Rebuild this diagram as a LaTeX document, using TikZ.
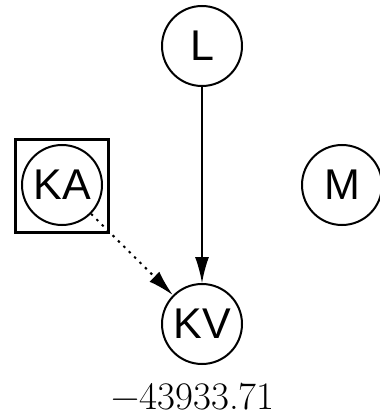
\documentclass[tikz,border=0pt]{standalone}
\usepackage{fontspec}
\newfontfamily\nodefont{Liberation Sans}
\usetikzlibrary{arrows.meta}
\tikzstyle{var} = [circle, minimum size=40pt, inner sep=0pt, draw=black, line width=1pt, font=\nodefont\fontsize{21.5}{24}\selectfont]
\tikzstyle{frame} = [rectangle, minimum size=46.5pt, inner sep=0pt, draw=black, line width=1.2pt]
\tikzstyle{arrow} = [line width=0.8pt, -{Latex[length=13pt,width=7pt]}]
\tikzstyle{dotarrow} = [arrow, line width=1pt, dash pattern=on 1.2pt off 2.6pt]
\begin{document}
\begin{tikzpicture}[x=0.5pt, y=-0.5pt]
				\useasboundingbox (0,0) rectangle (379,416);
				\node (L) [var] at (202,46) {L};
				\node (KA) [var] at (62,185) {KA};
				\node (KAbox) [frame] at (62,186) {};
				\node (M) [var] at (342,185) {M};
				\node (KV) [var] at (202,324) {KV};
				\node (score) at (193,397) {\fontsize{19.5}{22}\selectfont −43933.71};
				
				\draw [arrow] (L) -- (KV);
				\draw [dotarrow] (KA) -- (KV);
				
\end{tikzpicture}
\end{document}
